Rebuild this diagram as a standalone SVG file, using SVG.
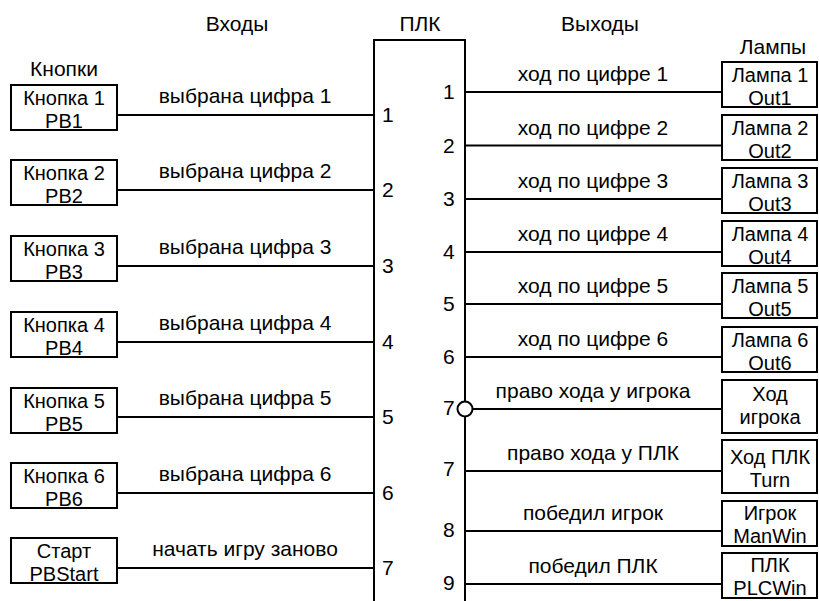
<svg xmlns="http://www.w3.org/2000/svg" width="819" height="601" viewBox="0 0 819 601">
<style>
text{font-family:"Liberation Sans",Arial,sans-serif;font-size:21px;fill:#000}
.c{text-anchor:middle}
.b{font-size:20px}
.box{fill:#fff;stroke:#000;stroke-width:2}
.w{fill:none;stroke:#000;stroke-width:2}
</style>
<rect width="819" height="601" fill="#fff"/>
<g id="headers">
<text class="c" x="237" y="31">Входы</text>
<text class="c" x="420" y="31">ПЛК</text>
<text class="c" x="600" y="31">Выходы</text>
<text class="c" x="64" y="76">Кнопки</text>
<text class="c" x="773" y="54">Лампы</text>
</g>
<g id="connectors">
<path class="w" d="M117,115H374M117,190H374M117,266H374M117,342H374M117,417H374M117,493H374M117,568H374"/>
<path class="w" d="M465,92H722M465,145.5H722M465,199H722M465,252H722M465,304H722M465,357H722M472.5,409H722M465,471H722M465,531H722M465,584H722"/>
<text class="c" x="245" y="103">выбрана цифра 1</text>
<text class="c" x="245" y="178">выбрана цифра 2</text>
<text class="c" x="245" y="254">выбрана цифра 3</text>
<text class="c" x="245" y="330">выбрана цифра 4</text>
<text class="c" x="245" y="405">выбрана цифра 5</text>
<text class="c" x="245" y="481">выбрана цифра 6</text>
<text class="c" x="245" y="556">начать игру заново</text>
<text class="c" x="593" y="81">ход по цифре 1</text>
<text class="c" x="593" y="134.5">ход по цифре 2</text>
<text class="c" x="593" y="188">ход по цифре 3</text>
<text class="c" x="593" y="241">ход по цифре 4</text>
<text class="c" x="593" y="293">ход по цифре 5</text>
<text class="c" x="593" y="346">ход по цифре 6</text>
<text class="c" x="593" y="398">право хода у игрока</text>
<text class="c" x="593" y="460">право хода у ПЛК</text>
<text class="c" x="593" y="520">победил игрок</text>
<text class="c" x="593" y="573">победил ПЛК</text>
</g>
<g id="plc">
<path class="w" d="M374,602V40H465V602"/>
<circle cx="465" cy="409" r="7.5" class="box"/>
<text x="382" y="122">1</text>
<text x="382" y="197">2</text>
<text x="382" y="273">3</text>
<text x="382" y="349">4</text>
<text x="382" y="424">5</text>
<text x="382" y="500">6</text>
<text x="382" y="575">7</text>
<text x="443" y="99">1</text>
<text x="443" y="152.5">2</text>
<text x="443" y="206">3</text>
<text x="443" y="259">4</text>
<text x="443" y="311">5</text>
<text x="443" y="364">6</text>
<text x="443" y="415">7</text>
<text x="443" y="476">7</text>
<text x="443" y="537">8</text>
<text x="443" y="590">9</text>
</g>
<g id="pb1"><rect class="box" x="11" y="85" width="106" height="45"/><text class="c b" x="64" y="105">Кнопка 1<tspan x="64" dy="22.5">PB1</tspan></text></g>
<g id="pb2"><rect class="box" x="11" y="160" width="106" height="45"/><text class="c b" x="64" y="180">Кнопка 2<tspan x="64" dy="22.5">PB2</tspan></text></g>
<g id="pb3"><rect class="box" x="11" y="236" width="106" height="45"/><text class="c b" x="64" y="256">Кнопка 3<tspan x="64" dy="22.5">PB3</tspan></text></g>
<g id="pb4"><rect class="box" x="11" y="312" width="106" height="45"/><text class="c b" x="64" y="332">Кнопка 4<tspan x="64" dy="22.5">PB4</tspan></text></g>
<g id="pb5"><rect class="box" x="11" y="388" width="106" height="45"/><text class="c b" x="64" y="408">Кнопка 5<tspan x="64" dy="22.5">PB5</tspan></text></g>
<g id="pb6"><rect class="box" x="11" y="463" width="106" height="45"/><text class="c b" x="64" y="483">Кнопка 6<tspan x="64" dy="22.5">PB6</tspan></text></g>
<g id="pbstart"><rect class="box" x="11" y="538" width="106" height="45"/><text class="c b" x="64" y="558">Старт<tspan x="64" dy="22.5">PBStart</tspan></text></g>
<g id="out1"><rect class="box" x="722" y="62" width="95" height="45"/><text class="c b" x="770" y="82">Лампа 1<tspan x="770" dy="22.5">Out1</tspan></text></g>
<g id="out2"><rect class="box" x="722" y="115" width="95" height="45"/><text class="c b" x="770" y="135">Лампа 2<tspan x="770" dy="22.5">Out2</tspan></text></g>
<g id="out3"><rect class="box" x="722" y="168" width="95" height="45"/><text class="c b" x="770" y="188">Лампа 3<tspan x="770" dy="22.5">Out3</tspan></text></g>
<g id="out4"><rect class="box" x="722" y="221" width="95" height="45"/><text class="c b" x="770" y="241">Лампа 4<tspan x="770" dy="22.5">Out4</tspan></text></g>
<g id="out5"><rect class="box" x="722" y="273" width="95" height="45"/><text class="c b" x="770" y="293">Лампа 5<tspan x="770" dy="22.5">Out5</tspan></text></g>
<g id="out6"><rect class="box" x="722" y="327" width="95" height="45"/><text class="c b" x="770" y="347">Лампа 6<tspan x="770" dy="22.5">Out6</tspan></text></g>
<g id="turnman"><rect class="box" x="722" y="380" width="95" height="53"/><text class="c b" x="770" y="401">Ход<tspan x="770" dy="22.5">игрока</tspan></text></g>
<g id="turn"><rect class="box" x="722" y="440" width="95" height="53"/><text class="c b" x="770" y="464">Ход ПЛК<tspan x="770" dy="22.5">Turn</tspan></text></g>
<g id="manwin"><rect class="box" x="722" y="501" width="95" height="45"/><text class="c b" x="770" y="520">Игрок<tspan x="770" dy="22.5">ManWin</tspan></text></g>
<g id="plcwin"><rect class="box" x="722" y="553" width="95" height="45"/><text class="c b" x="770" y="572">ПЛК<tspan x="770" dy="22.5">PLCWin</tspan></text></g>
</svg>
